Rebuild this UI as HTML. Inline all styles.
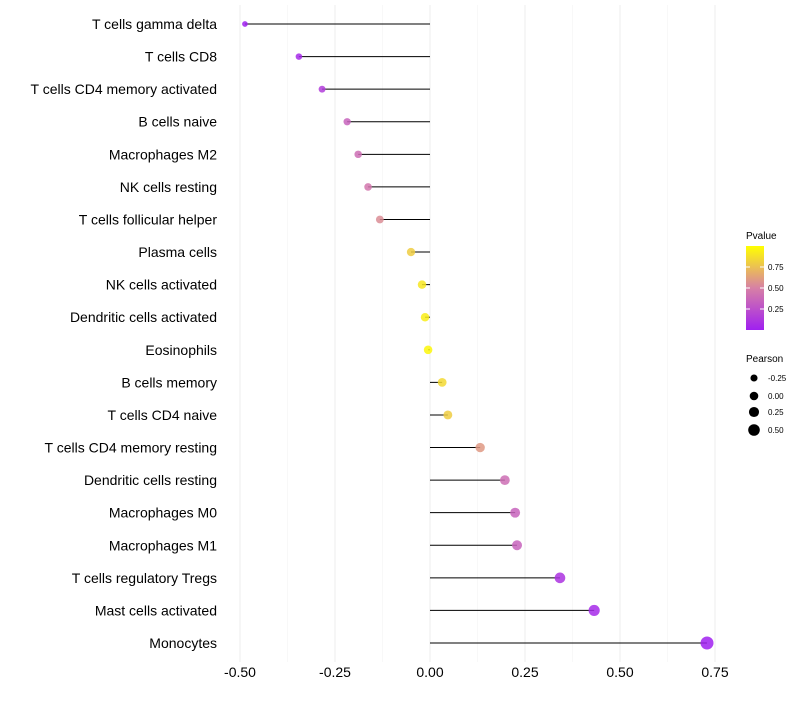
<!DOCTYPE html>
<html><head><meta charset="utf-8"><style>
body{margin:0;background:#fff;font-family:"Liberation Sans",sans-serif}
</style></head><body>
<svg id="c" width="800" height="700" xmlns="http://www.w3.org/2000/svg" style="font-family:'Liberation Sans',sans-serif"></svg>
<script>
const categories=["T cells gamma delta","T cells CD8","T cells CD4 memory activated","B cells naive","Macrophages M2","NK cells resting","T cells follicular helper","Plasma cells","NK cells activated","Dendritic cells activated","Eosinophils","B cells memory","T cells CD4 naive","T cells CD4 memory resting","Dendritic cells resting","Macrophages M0","Macrophages M1","T cells regulatory  Tregs ","Mast cells activated","Monocytes"];
const pearson=[-0.487,-0.345,-0.284,-0.218,-0.189,-0.163,-0.132,-0.05,-0.021,-0.013,-0.005,0.032,0.047,0.132,0.197,0.224,0.229,0.342,0.432,0.729];
const pvalue=[0.0,0.05,0.15,0.35,0.4,0.45,0.55,0.8,0.9,0.93,0.97,0.85,0.8,0.6,0.4,0.35,0.35,0.1,0.05,0.0];
const xTicks=[-0.5,-0.25,0,0.25,0.5,0.75];
const xTickLabels=["-0.50","-0.25","0.00","0.25","0.50","0.75"];
const pTicks=[0.25,0.5,0.75];
const sizeLegend=[-0.25,0,0.25,0.5];
const NS="http://www.w3.org/2000/svg";
const svg=document.getElementById('c');
function mk(t,a,p){const e=document.createElementNS(NS,t);for(const k in a)e.setAttribute(k,a[k]);(p||svg).appendChild(e);return e;}
const x=v=>430+v*380;
const y=i=>24+i*(643-24)/(categories.length-1);
const r=v=>Math.max(1.3,4.3+3.0*v);
function col(p){const s=[[160,32,240],[215,128,165],[255,255,0]];let a,b,t;if(p<0.5){a=s[0];b=s[1];t=p/0.5}else{a=s[1];b=s[2];t=(p-0.5)/0.5}return 'rgb('+a.map((c,i)=>Math.round(c+(b[i]-c)*t)).join(',')+')';}
const minor=[-0.375,-0.125,0.125,0.375,0.625];
minor.forEach(v=>{const l=mk('line',{x1:x(v),x2:x(v),y1:5,y2:662,stroke:'#f4f4f4','stroke-width':0.6});});
xTicks.forEach((v,i)=>{const l=mk('line',{x1:x(v),x2:x(v),y1:5,y2:662,stroke:'#ededed','stroke-width':1});
const t=mk('text',{x:x(v),y:677,'text-anchor':'middle','font-size':14,fill:'#000'});t.textContent=xTickLabels[i];});
categories.forEach((c,i)=>{const g=mk('g',{});
const t=mk('text',{x:217,y:y(i)+5,'text-anchor':'end','font-size':14,fill:'#000'},g);t.textContent=c;
const l=mk('line',{x1:x(0),x2:x(pearson[i]),y1:y(i),y2:y(i),stroke:'#000','stroke-width':1},g);
const d=mk('circle',{cx:x(pearson[i]),cy:y(i),r:r(pearson[i]),fill:col(pvalue[i]),'fill-opacity':0.85},g);});
const defs=mk('defs',{});const lg=mk('linearGradient',{id:'gr',x1:0,y1:1,x2:0,y2:0},defs);
[0,0.25,0.5,0.75,1].forEach(p=>mk('stop',{offset:p,'stop-color':col(p)},lg));
const lt=mk('text',{x:746,y:239,'font-size':10,fill:'#000'});lt.textContent='Pvalue';
const cb=mk('rect',{x:746,y:246,width:18,height:84,fill:'url(#gr)'});
const py=p=>330-p*84;
pTicks.forEach(p=>{mk('line',{x1:746,x2:750,y1:py(p),y2:py(p),stroke:'#fff'});mk('line',{x1:760,x2:764,y1:py(p),y2:py(p),stroke:'#fff'});
const t=mk('text',{x:768,y:py(p)+3,'font-size':8,fill:'#000'});t.textContent=p.toFixed(2);});
const st=mk('text',{x:746,y:362,'font-size':10,fill:'#000'});st.textContent='Pearson';
const sy=[378,396,412,430];
sizeLegend.forEach((v,i)=>{const c=mk('circle',{cx:754,cy:sy[i],r:r(v),fill:'#000'});
const t=mk('text',{x:768,y:sy[i]+3,'font-size':8,fill:'#000'});t.textContent=v.toFixed(2);});
</script>
</body></html>
